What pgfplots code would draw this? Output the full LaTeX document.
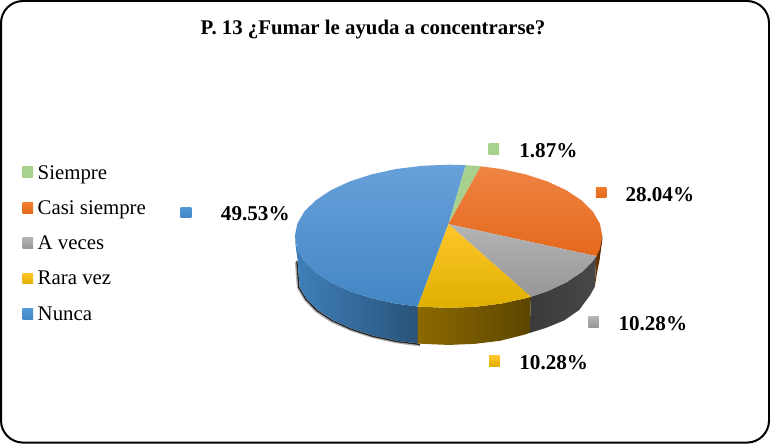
\documentclass[border=0pt]{standalone}
\usepackage{fontspec}
\setmainfont{Liberation Serif}
\usepackage{pgfplots}
\pgfplotsset{compat=1.18}

% px coordinates, y pointing down, 1 px = 1 pt
\newcommand{\swatch}[5]{%
  \addplot[draw=none, shade, top color=#4, bottom color=#5] coordinates
    {(#1,#2) (#1+#3,#2) (#1+#3,#2+#3) (#1,#2+#3)} -- cycle;}
\newcommand{\legtext}[2]{\node[anchor=base west, font=\fontsize{20.8}{22}\selectfont, inner sep=0pt] at (axis cs:38,#1) {#2};}
\newcommand{\vallabel}[2]{\node[anchor=west, font=\fontsize{21.1}{22}\selectfont\bfseries, inner sep=0pt] at (axis cs:#1) {#2};}

\definecolor{blueA}{HTML}{68A0DA}
\definecolor{blueB}{HTML}{5098D6}
\definecolor{blueC}{HTML}{4286C4}
\definecolor{orgA}{HTML}{EF8444}
\definecolor{orgB}{HTML}{F07D2C}
\definecolor{orgC}{HTML}{E4681C}
\definecolor{grayA}{HTML}{B4B4B4}
\definecolor{grayB}{HTML}{A6A6A6}
\definecolor{grayC}{HTML}{979797}
\definecolor{yelA}{HTML}{FFC62A}
\definecolor{yelB}{HTML}{FFC000}
\definecolor{yelC}{HTML}{DFB000}
\definecolor{grn}{HTML}{A9D18E}

\begin{document}
\begin{tikzpicture}
\begin{axis}[
  scale only axis, width=770pt, height=444pt,
  xmin=0, xmax=770, ymin=0, ymax=444,
  y dir=reverse, axis lines=none, clip=false,
]
  % frame
  \draw[black, line width=2pt, rounded corners=22pt]
    (axis cs:1.5,1.5) rectangle (axis cs:768.5,442.5);

  % drop shadow along lower left rim
  \addplot[black!30, line width=3pt, no marks] coordinates {
    (296.5,262) (297.5,275) (298.5,287.5) (305.5,299.5) (316.5,311) (331.5,321)
    (350.5,329.5) (372,336.5) (396,341.8) (420,345)};
  \addplot[black!85, line width=1.3pt, no marks] coordinates {
    (297,261) (298,275) (299,287.7) (306,299.5) (317,310.7) (332.2,320.7)
    (351,329.3) (372.5,336.3) (396.5,341.5) (420,344.5)};

  % side walls
  \addplot[draw=none, shade, left color=black!55!orange, right color=black!70!orange] coordinates {
    (602,236.5) (602,240) (599.3,260) (596.7,273.3) (595,284) (594.5,287) (596,256.5)} -- cycle;
  \addplot[draw=none, shade, left color=black!77, right color=black!72] coordinates {
    (530.7,296.9) (547.2,291.3) (566.1,282.5) (581.4,272.25) (592.7,261) (596,256.3)
    (594.5,287) (590,295) (579,310) (564,320.5) (545.6,328) (529.5,333)} -- cycle;
  \addplot[draw=none, shade, left color=yelB!55!black, right color=yelB!36!black] coordinates {
    (417.7,306.6) (421.8,306.9) (448.5,308) (475.2,306.9) (501,303.7) (525.25,298.4) (530.7,296.9)
    (529.5,333) (524,334.8) (500.1,340.8) (474.7,343.9) (448.5,345) (422.3,343.9) (417.7,343.4)} -- cycle;
  \addplot[draw=none, shade, left color=blueC!95!black, right color=blueC!62!black] coordinates {
    (417.7,306.6) (396,303.7) (371.75,298.4) (349.8,291.3) (330.9,282.5) (315.6,272.25)
    (304.3,261) (297.3,248.9) (295,238)
    (296,248) (297.7,260) (299.8,287.2) (306.6,298.9) (317.7,310) (332.8,320)
    (351.4,328.6) (373,335.6) (396.9,340.8) (417.7,343.4)} -- cycle;

  % top face wedges: 49.53, 1.87, 28.04, 10.28, 10.28
  \addplot[draw=none, shade, top color=blueA, middle color=blueB, bottom color=blueC] coordinates {
    (448.3,224.3) (417.7,306.6) (396,303.7) (371.75,298.4) (349.8,291.3) (330.9,282.5)
    (315.6,272.25) (304.3,261) (297.3,248.9) (295,236.5) (297.3,224.1) (304.3,212)
    (315.6,200.75) (330.9,190.5) (349.8,181.7) (371.75,174.6) (396,169.3) (421.8,166.1)
    (448.5,165) (465.7,165.4)} -- cycle;
  \addplot[draw=none, fill=grn] coordinates {
    (448.3,224.3) (465.7,165.4) (475.2,166.1) (480.7,166.6)} -- cycle;
  \addplot[draw=none, shade, top color=orgA, middle color=orgB, bottom color=orgC] coordinates {
    (448.3,224.3) (480.7,166.6) (501,169.3) (525.25,174.6) (547.2,181.7) (566.1,190.5)
    (581.4,200.75) (592.7,212) (599.7,224.1) (602,236.5) (599.7,248.9) (596,256.3)} -- cycle;
  \addplot[draw=none, shade, top color=grayA, middle color=grayB, bottom color=grayC] coordinates {
    (448.3,224.3) (596,256.3) (592.7,261) (581.4,272.25) (566.1,282.5) (547.2,291.3) (530.7,296.9)} -- cycle;
  \addplot[draw=none, shade, top color=yelA, middle color=yelB, bottom color=yelC] coordinates {
    (448.3,224.3) (530.7,296.9) (525.25,298.4) (501,303.7) (475.2,306.9) (448.5,308)
    (421.8,306.9) (417.7,306.6)} -- cycle;

  % legend
  \swatch{23}{167}{10.5}{grn}{grn}
  \swatch{23}{203}{10.5}{orgB}{orgC}
  \swatch{23}{238}{10.5}{grayA}{grayC}
  \swatch{23}{273.5}{10.5}{yelA}{yelC}
  \swatch{23}{309}{10.5}{blueB}{blueC}
  \legtext{180}{Siempre}
  \legtext{215}{Casi siempre}
  \legtext{250}{A veces}
  \legtext{285}{Rara vez}
  \legtext{320.7}{Nunca}

  % data labels
  \swatch{488.5}{144}{10.5}{grn}{grn}
  \swatch{595.5}{187.5}{10.5}{orgB}{orgC}
  \swatch{181}{207.5}{10.5}{blueB}{blueC}
  \swatch{588}{317}{10.5}{grayA}{grayC}
  \swatch{489}{356}{10.5}{yelA}{yelC}
  \vallabel{519,151}{1.87\%}
  \vallabel{625,195}{28.04\%}
  \vallabel{221,214}{49.53\%}
  \vallabel{618,324}{10.28\%}
  \vallabel{519,362.5}{10.28\%}

  % title
  \node[font=\fontsize{20.8}{22}\selectfont\bfseries, inner sep=0pt] at (axis cs:373,30)
    {P. 13 ¿Fumar le ayuda a concentrarse?};
\end{axis}
\end{tikzpicture}
\end{document}
